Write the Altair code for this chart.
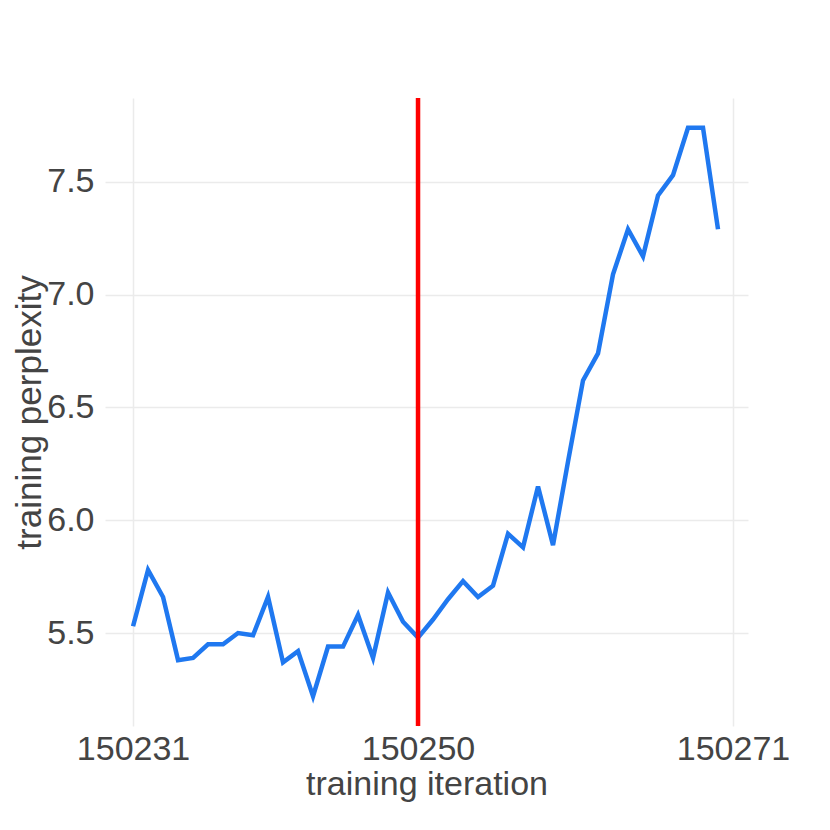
import altair as alt
import pandas as pd

iterations = list(range(150231, 150271))
perplexity = [5.53, 5.78, 5.66, 5.38, 5.39, 5.45, 5.45, 5.50, 5.49, 5.66,
              5.37, 5.42, 5.22, 5.44, 5.44, 5.58, 5.39, 5.68, 5.55, 5.48,
              5.56, 5.65, 5.73, 5.66, 5.71, 5.94, 5.88, 6.15, 5.89, 6.26,
              6.62, 6.74, 7.09, 7.29, 7.17, 7.44, 7.53, 7.74, 7.74, 7.29]
marker_iter = [150250]
x_ticks = [150231, 150250, 150271]
y_ticks = [5.5, 6.0, 6.5, 7.0, 7.5]

df = pd.DataFrame({"iteration": iterations, "perplexity": perplexity})
mk = pd.DataFrame({"iteration": marker_iter})

FONT = "Liberation Sans"
TXT = "#444"

x_scale = alt.Scale(domain=[150229.13, 150272], nice=False, zero=False)
y_scale = alt.Scale(domain=[5.088, 7.872], nice=False, zero=False)

x_axis = alt.Axis(
    title="training iteration", values=x_ticks, format="d",
    grid=True, gridColor="#ebebeb", gridWidth=1.5, domain=False, ticks=False,
    labelFont=FONT, labelFontSize=34, labelColor=TXT, labelPadding=6,
    labelFlush=False,
    titleFont=FONT, titleFontSize=34, titleFontWeight="normal", titleColor=TXT,
    titleY=68, titleBaseline="alphabetic",
)
y_axis = alt.Axis(
    title="training perplexity", values=y_ticks, format=".1f",
    grid=True, gridColor="#ebebeb", gridWidth=1.5, domain=False, ticks=False,
    labelFont=FONT, labelFontSize=34, labelColor=TXT, labelPadding=11,
    titleFont=FONT, titleFontSize=35, titleFontWeight="normal", titleColor=TXT,
    titleX=-76, titleY=314, titleBaseline="middle", titleAngle=-90,
)

line = alt.Chart(df).mark_line(color="#1f78f0", strokeWidth=4.5, strokeJoin="miter").encode(
    x=alt.X("iteration:Q", scale=x_scale, axis=x_axis),
    y=alt.Y("perplexity:Q", scale=y_scale, axis=y_axis),
)
rule = alt.Chart(mk).mark_rule(color="#ff0000", strokeWidth=4.5).encode(
    x=alt.X("iteration:Q", scale=x_scale),
)

chart = alt.layer(line, rule).properties(
    width=643, height=628,
    background="white",
    autosize=alt.AutoSizeParams(type="none"),
    padding={"left": 97, "top": 90, "right": 70, "bottom": 80},
).configure_view(strokeWidth=0, stroke=None)

chart.save("out.html", embed_options={"renderer": "svg", "actions": False})
